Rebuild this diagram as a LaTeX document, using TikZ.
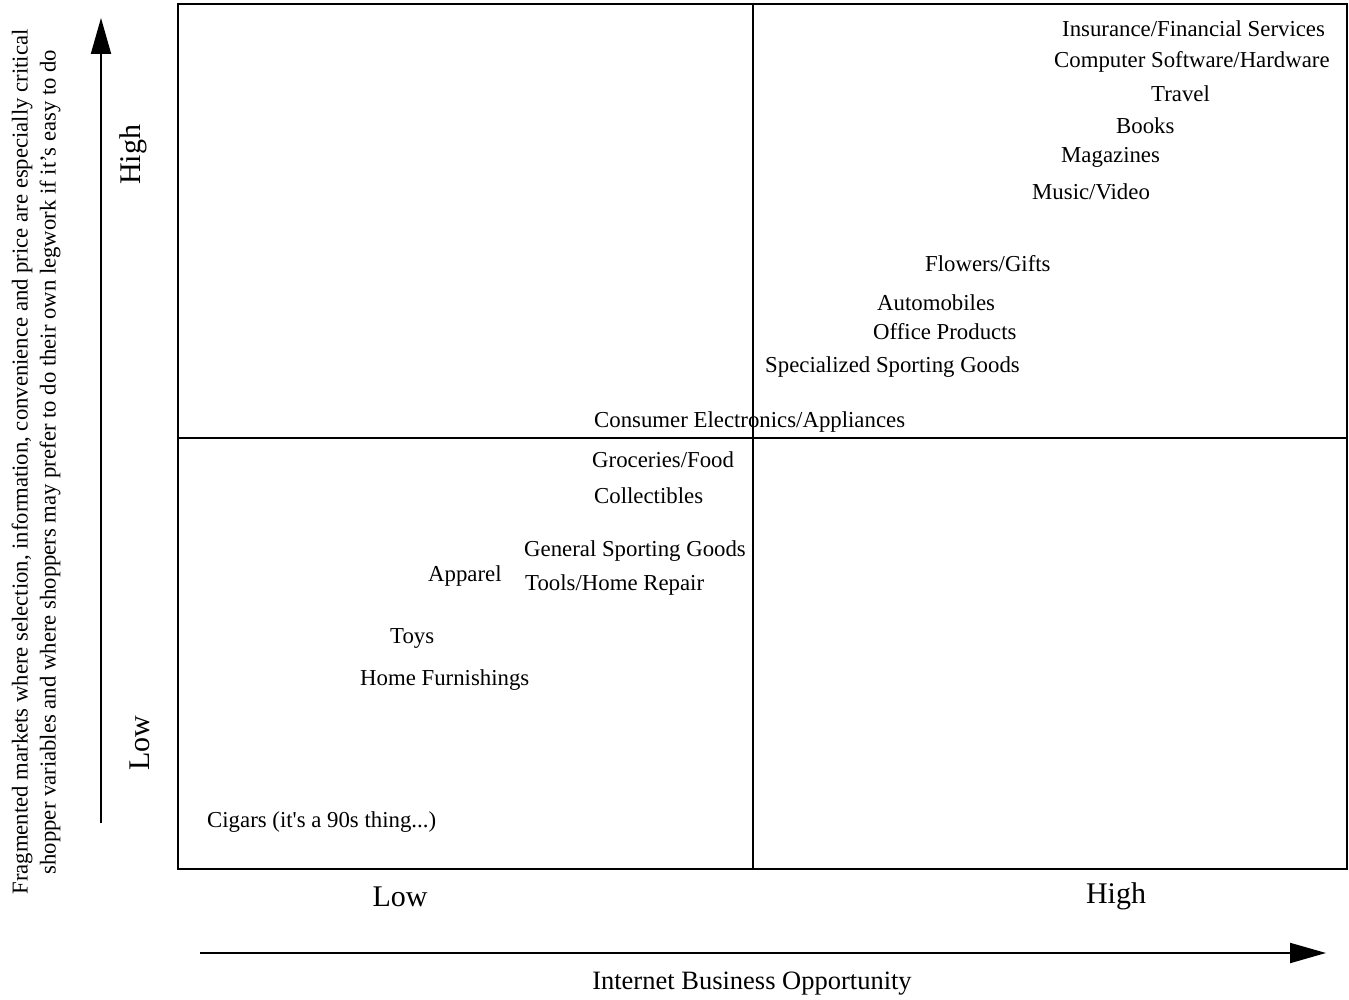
\documentclass[tikz,border=0pt]{standalone}
\usepackage{fontspec}
\setmainfont{Liberation Serif}
\usetikzlibrary{arrows.meta}
\begin{document}
\begin{tikzpicture}[x=1pt,y=-1pt,
  item/.style={anchor=west,inner sep=0pt,yshift=-0.5pt,font=\fontsize{22.8}{27}\selectfont},
  level/.style={inner sep=0pt,font=\fontsize{30}{36}\selectfont},
  axistitle/.style={inner sep=0pt,align=center,font=\fontsize{22.7}{28}\selectfont},
  frame/.style={line width=1.8pt},
  axisarrow/.style={line width=2pt,-{Triangle[length=36pt,width=20pt]}}]
\useasboundingbox (0,0) rectangle (1349,1000);

% quadrant frame and dividers
\coordinate (tl) at (178,4);
\coordinate (br) at (1347,869);
\coordinate (vtop) at (753,4);
\coordinate (vbot) at (753,869);
\coordinate (hl) at (178,438);
\coordinate (hr) at (1347,438);
\draw[frame] (tl) rectangle (br);
\draw[frame] (vtop) -- (vbot);
\draw[frame] (hl) -- (hr);

% axes
\coordinate (ystart) at (101,823);
\coordinate (yend) at (101,18);
\draw[axisarrow] (ystart) -- (yend);
\coordinate (xstart) at (200,953);
\coordinate (xend) at (1326,953);
\draw[axisarrow] (xstart) -- (xend);

\node[axistitle,rotate=90] (ytitle) at (36,462)
  {Fragmented markets where selection, information, convenience and price are especially critical\\
   shopper variables and where shoppers may prefer to do their own legwork if it’s easy to do};
\node[axistitle,font=\fontsize{26.5}{30}\selectfont] (xtitle) at (752,984) {Internet Business Opportunity};

\node[level,rotate=90] (yhigh) at (133,155) {High};
\node[level,rotate=90] (ylow) at (140,743) {Low};
\node[level] (xlow) at (400,897) {Low};
\node[level] (xhigh) at (1116,896) {High};

% market categories
\node[item] (ins) at (1062,28) {Insurance/Financial Services};
\node[item] (comp) at (1054,61) {Computer Software/Hardware};
\node[item] (trav) at (1151,93) {Travel};
\node[item] (books) at (1116,125) {Books};
\node[item] (mags) at (1061,157) {Magazines};
\node[item] (music) at (1032,191) {Music/Video};
\node[item] (flow) at (925,263) {Flowers/Gifts};
\node[item] (auto) at (877,302) {Automobiles};
\node[item] (office) at (873,331) {Office Products};
\node[item] (spec) at (765,367) {Specialized Sporting Goods};
\node[item] (cons) at (594,422) {Consumer Electronics/Appliances};
\node[item] (groc) at (592,459) {Groceries/Food};
\node[item] (coll) at (594,495) {Collectibles};
\node[item] (gen) at (524,551) {General Sporting Goods};
\node[item] (app) at (428,576) {Apparel};
\node[item] (tools) at (525,585) {Tools/Home Repair};
\node[item] (toys) at (390,638) {Toys};
\node[item] (home) at (360,680) {Home Furnishings};
\node[item] (cig) at (207,822) {Cigars (it\textquotesingle s a 90s thing...)};
\end{tikzpicture}
\end{document}
